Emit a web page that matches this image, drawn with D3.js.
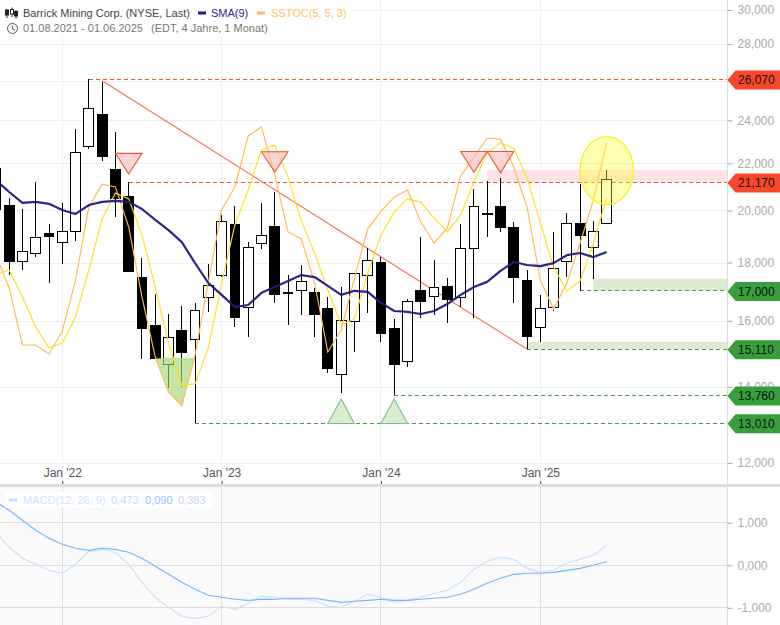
<!DOCTYPE html>
<html><head><meta charset="utf-8">
<script src="https://cdn.jsdelivr.net/npm/d3@7"></script>
<style>html,body{margin:0;padding:0;background:#fff}svg{display:block;font-family:"Liberation Sans",Arial,sans-serif}</style>
</head><body><svg id="c" width="780" height="625"></svg>
<script>
const months=["Aug 21","Sep 21","Okt 21","Nov 21","Dez 21","Jan 22","Feb 22","Mär 22","Apr 22","Mai 22","Jun 22","Jul 22","Aug 22","Sep 22","Okt 22","Nov 22","Dez 22","Jan 23","Feb 23","Mär 23","Apr 23","Mai 23","Jun 23","Jul 23","Aug 23","Sep 23","Okt 23","Nov 23","Dez 23","Jan 24","Feb 24","Mär 24","Apr 24","Mai 24","Jun 24","Jul 24","Aug 24","Sep 24","Okt 24","Nov 24","Dez 24","Jan 25","Feb 25","Mär 25","Apr 25","Mai 25","Jun 25"];
const bodyTop=[21800,20220,18390,18950,19110,19150,22510,24560,24320,21750,20590,17480,15860,15480,15700,16320,17200,19540,19460,18570,19030,19380,16960,17310,16960,16420,16000,17590,18090,18020,15770,16620,17030,17100,17170,18500,20180,19900,20180,19340,17380,16390,17770,19460,19500,19150,21310];
const bodyBottom=[20020,18020,18050,18350,18950,18760,19150,22740,22280,20470,17660,15730,14810,14660,14990,15390,16760,17550,16090,16420,18690,16860,16890,17000,16190,14510,14360,15970,17550,15580,14630,14720,16620,16790,16690,16760,18500,19820,19300,17450,15480,15770,16420,18050,19000,18540,19460];
const highs=[22000,20510,20060,21180,19460,20310,23590,26070,25940,23440,21170,18160,16890,16220,16490,16590,17950,19820,20180,18760,20310,20760,17550,17910,17100,16790,17130,17620,18540,18200,16060,16720,18950,18090,17450,19460,20880,21230,21360,19540,17730,16860,19150,19900,21100,19580,21710];
const lows=[19700,17550,17730,18200,17280,17950,18800,22650,22100,19740,17660,14810,14810,13970,14000,13010,16290,17480,15800,15480,18500,16590,15860,16190,15480,14390,13830,15020,16250,15330,13760,14570,16090,16190,15930,16450,16090,18950,19150,16590,15110,15330,16320,17480,17000,17420,19460];
const isBlack=[1,1,0,0,1,0,0,0,1,1,1,1,1,0,1,0,0,0,1,0,0,1,1,0,1,1,0,0,0,1,1,0,1,0,1,0,0,1,1,1,1,0,0,0,1,0,0];
const sma9=[21270,20760,20310,20350,20270,20020,19860,20220,20350,20390,20350,20060,19620,19220,18760,17980,17270,16860,16450,16520,16930,17130,17340,17550,17480,17170,16860,17000,16960,16590,16320,16290,16220,16320,16550,16860,17130,17310,17700,18020,17910,17870,17980,18270,18350,18200,18390];
const stochK=[53.4,42.1,22.4,22.4,19.3,27.2,44.8,70,77.9,76.9,63.1,39,18.3,6.2,1.4,19,44.1,69,76.9,94.5,97.6,81,61.4,59,43.8,20,27.6,45.5,62.4,68.6,73.4,75.9,64.8,57.6,62.8,80.7,87.2,93.8,93.4,83.8,70,44.8,34.8,43.8,57.6,72.4,92.4];
const stochD=[46.6,48.3,39,28.6,21.4,23.1,32.1,48.3,65.9,74.8,72.8,60.3,42.4,23.1,8.6,9,21.4,43.8,63.8,75.9,89.7,91.4,80.3,65.2,54.1,41.4,29.3,31.4,47.2,60.3,68.3,72.8,71.7,66.2,61.4,67.2,78.6,88.6,92.1,90.3,80,64.5,49.3,41,44.5,57.6,73.1];
const macdLine=[0.776,0.424,0.165,0.024,-0.118,-0.188,0.024,0.329,0.376,0.306,0.024,-0.4,-0.753,-0.988,-1.2,-1.247,-1.2,-0.965,-1.035,-0.894,-0.729,-0.753,-0.8,-0.8,-0.824,-0.965,-0.988,-0.847,-0.682,-0.753,-0.871,-0.824,-0.753,-0.659,-0.588,-0.4,-0.094,0.094,0.188,0.141,-0.071,-0.165,-0.118,0.047,0.141,0.235,0.473];
const macdSignal=[1.482,1.294,1.059,0.824,0.635,0.494,0.4,0.353,0.4,0.376,0.306,0.165,-0.024,-0.212,-0.4,-0.565,-0.706,-0.753,-0.8,-0.824,-0.8,-0.8,-0.776,-0.776,-0.776,-0.824,-0.871,-0.847,-0.824,-0.8,-0.824,-0.824,-0.8,-0.776,-0.753,-0.682,-0.565,-0.424,-0.306,-0.212,-0.188,-0.188,-0.165,-0.118,-0.071,0,0.09];
const priceTicks=[12000,14000,16000,18000,20000,22000,24000,26000,28000,30000];
const macdTicks=[-1,0,1];
const yearTickIdx=[5,17,29,41];
const yearTickLabels=["Jan '22","Jan '23","Jan '24","Jan '25"];
const levelValues=[26070,21170,17000,15110,13760,13010];
const levelStart=[7,10,44,40,30,15];
const levelColors=["#f9472a","#f9472a","#379e3c","#379e3c","#379e3c","#379e3c"];
const levelLine=["#f0553a","#f0553a","#3f9f45","#3f9f45","#3f9f45","#3f9f45"];
const zoneStart=[37,45,40];
const zoneHigh=[21710,17420,15330];
const zoneLow=[21170,17000,15110];
const zoneFill=["#fde3e5","#deebd2","#deebd2"];
const downTriIdx=[10,21,36,38];
const downTriBase=[22450,22520,22530,22530];
const downTriApex=[21530,21620,21610,21580];
const upTriIdx=[26,30];
const upTriBase=[13000,13000];
const upTriApex=[13660,13660];
const trendIdx=[8,40];
const trendVal=[26000,15110];
const stochFloor=18;
const circleIdx=46, circlePrice=21680;

const W=780,axisX=727.5;
const svg=d3.select("#c");
const defs=svg.append("defs");
defs.append("clipPath").attr("id","mainClip").append("rect").attr("x",0).attr("y",0).attr("width",axisX).attr("height",484);
defs.append("clipPath").attr("id","macdClip").append("rect").attr("x",0).attr("y",487).attr("width",axisX).attr("height",138);

const x=d3.scaleLinear().domain([0,46]).range([-4.1,606.7]);
const y=d3.scaleLog().domain([12000,30000]).range([463,10]);
const ys=d3.scaleLinear().domain([0,100]).range([410,120]);
const ym=d3.scaleLinear().domain([-1,1]).range([607.8,522.8]);
const loc=d3.formatLocale({decimal:",",thousands:",",grouping:[3],minus:"-",currency:["","€"]});
const fp=d3.format(",.0f"), fm=loc.format(".3f");
const idx=d3.range(months.length);
const half=x(1)-x(0);

// panel background
svg.append("rect").attr("x",0).attr("y",487).attr("width",axisX).attr("height",138).attr("fill","#fafafa");

// grid
const g=svg.append("g").attr("shape-rendering","crispEdges");
g.selectAll(".hg").data(priceTicks).join("line").attr("x1",0).attr("x2",axisX).attr("y1",d=>y(d)+.5).attr("y2",d=>y(d)+.5).attr("stroke","#eeeeee").attr("stroke-width",1);
g.selectAll(".vg").data(yearTickIdx).join("line").attr("x1",d=>x(d)).attr("x2",d=>x(d)).attr("y1",0).attr("y2",484).attr("stroke","#f0f0f0").attr("stroke-width",1);
g.selectAll(".hm").data(macdTicks).join("line").attr("x1",0).attr("x2",axisX).attr("y1",d=>ym(d)).attr("y2",d=>ym(d)).attr("stroke","#dedede");
g.selectAll(".vm").data(yearTickIdx).join("line").attr("x1",d=>x(d)).attr("x2",d=>x(d)).attr("y1",487).attr("y2",625).attr("stroke","#dedede");

// legend background hides grid
svg.append("rect").attr("x",0).attr("y",0).attr("width",352).attr("height",37).attr("fill","#fff");

const main=svg.append("g").attr("clip-path","url(#mainClip)");
// zones
main.selectAll(".zone").data(zoneStart).join("rect")
 .attr("x",d=>x(d)).attr("width",d=>axisX-x(d))
 .attr("y",(d,i)=>y(zoneHigh[i])).attr("height",(d,i)=>y(zoneLow[i])-y(zoneHigh[i]))
 .attr("fill",(d,i)=>zoneFill[i]);
// level lines
main.selectAll(".lvl").data(levelValues).join("line")
 .attr("shape-rendering","crispEdges")
 .attr("x1",(d,i)=>x(levelStart[i])).attr("x2",axisX).attr("y1",d=>y(d)).attr("y2",d=>y(d))
 .attr("stroke",(d,i)=>levelLine[i]).attr("stroke-width",1).attr("stroke-dasharray","4,3");
// trend
main.append("line").attr("x1",x(trendIdx[0])).attr("y1",y(trendVal[0])).attr("x2",x(trendIdx[1])).attr("y2",y(trendVal[1])).attr("stroke","#fa6a50").attr("stroke-width",1.1);

// candles
const cg=main.selectAll(".c").data(idx).join("g").attr("shape-rendering","crispEdges");
cg.append("line").attr("x1",i=>x(i)).attr("x2",i=>x(i)).attr("y1",i=>y(highs[i])).attr("y2",i=>y(lows[i])).attr("stroke","#000").attr("stroke-width",1);
cg.append("rect").attr("x",i=>x(i)-(isBlack[i]?5.4:4.9)).attr("width",i=>isBlack[i]?10.8:9.8)
 .attr("y",i=>y(bodyTop[i])).attr("height",i=>Math.max(1,y(bodyBottom[i])-y(bodyTop[i])))
 .attr("fill",i=>isBlack[i]?"#000":"#fff").attr("stroke",i=>isBlack[i]?"none":"#000").attr("stroke-width",1);

// stoch fill
const fillIdx=[12,13,14,15];
main.append("path").attr("d",d3.area().x(i=>x(i)).y0(ys(stochFloor)).y1(i=>ys(Math.min(stochK[i],stochFloor)))(fillIdx))
 .attr("fill","#a5d873").attr("fill-opacity",.65);
// stoch lines
const ls=a=>d3.line().x(i=>x(i)).y(i=>ys(a[i]))(idx);
main.append("path").attr("d",ls(stochK)).attr("fill","none").attr("stroke","#ffb950").attr("stroke-width",1.15);
main.append("path").attr("d",ls(stochD)).attr("fill","none").attr("stroke","#ffe01a").attr("stroke-width",1.15);
// SMA
main.append("path").attr("d",d3.line().x(i=>x(i)).y(i=>y(sma9[i]))(idx)).attr("fill","none").attr("stroke","#23187f").attr("stroke-width",2.2).attr("stroke-linejoin","round").attr("stroke-opacity",.95);

// triangles
main.selectAll(".dt").data(downTriIdx).join("path")
 .attr("d",(d,i)=>d3.line()([[x(d)-half,y(downTriBase[i])],[x(d)+half,y(downTriBase[i])],[x(d),y(downTriApex[i])]])+"Z")
 .attr("fill","#f9b8b8").attr("fill-opacity",.6).attr("stroke","#e8592e").attr("stroke-width",1.1);
main.selectAll(".ut").data(upTriIdx).join("path")
 .attr("d",(d,i)=>d3.line()([[x(d)-half,y(upTriBase[i])],[x(d)+half,y(upTriBase[i])],[x(d),y(upTriApex[i])]])+"Z")
 .attr("fill","#c4deb8").attr("fill-opacity",.6).attr("stroke","#7cc47c").attr("stroke-width",1.1);
// highlight ellipse
main.append("ellipse").attr("cx",x(circleIdx)).attr("cy",y(circlePrice)).attr("rx",26.7).attr("ry",34)
 .attr("fill","#ffff33").attr("fill-opacity",.38).attr("stroke","#ffee11").attr("stroke-width",1.2);

// MACD
const mg=svg.append("g").attr("clip-path","url(#macdClip)");
const lm=a=>d3.line().x(i=>x(i)).y(i=>ym(a[i]))(idx);
mg.append("path").attr("d",lm(macdLine)).attr("fill","none").attr("stroke","#c5e0ff").attr("stroke-width",1.15);
mg.append("path").attr("d",lm(macdSignal)).attr("fill","none").attr("stroke","#6fb6ff").attr("stroke-width",1.15);

// separator
svg.append("rect").attr("x",0).attr("y",484).attr("width",W).attr("height",3).attr("fill","#dddddd");

// axes
function style(a,col){a.select(".domain").remove();a.selectAll(".tick line").attr("stroke","#aaa");a.selectAll(".tick text").attr("fill",col).style("font-size","12px").style("font-family",'"Liberation Sans",Arial,sans-serif');}
svg.append("line").attr("x1",axisX).attr("x2",axisX).attr("y1",0).attr("y2",625).attr("stroke","#dddddd");
const ap=svg.append("g").attr("transform",`translate(${axisX},0)`).call(d3.axisRight(y).tickValues(priceTicks).tickFormat(fp).tickSize(5).tickPadding(5));
style(ap,"#aaaaaa");
const am=svg.append("g").attr("transform",`translate(${axisX},0)`).call(d3.axisRight(ym).tickValues(macdTicks).tickFormat(fm).tickSize(5).tickPadding(5));
style(am,"#aaaaaa");
const ax=svg.append("g").attr("transform","translate(0,484)").call(d3.axisTop(x).tickValues(yearTickIdx).tickFormat((d,i)=>yearTickLabels[i]).tickSize(3).tickPadding(4));
style(ax,"#555555"); ax.selectAll(".tick line").attr("stroke","#444");

// level tags
const tags=svg.selectAll(".tag").data(levelValues).join("g").attr("transform",d=>`translate(${axisX},${y(d)+.6})`);
tags.append("path").attr("d","M0,0L8,-9.5H53V9.5H8Z").attr("fill",(d,i)=>levelColors[i]);
tags.append("text").attr("x",10.5).attr("y",4.4).attr("fill","#111").style("font-size","12px").text(d=>fp(d));

// legend
const t=(xx,yy,s,c,size=11)=>svg.append("text").attr("x",xx).attr("y",yy).attr("fill",c).style("font-size",size+"px").text(s);
t(23,17,"Barrick Mining Corp. (NYSE, Last)","#444");
svg.append("rect").attr("x",198).attr("y",11.5).attr("width",8).attr("height",3).attr("fill","#23187f");
t(211,17,"SMA(9)","#2b2a8f");
svg.append("rect").attr("x",257).attr("y",11.5).attr("width",8).attr("height",3).attr("fill","#ffb950");
t(271,17,"SSTOC(5, 5, 3)","#ffc266");
t(23,32,"01.08.2021 - 01.06.2025","#777");
t(151,32,"(EDT, 4 Jahre, 1 Monat)","#777");
// icons
const ic=svg.append("g").attr("stroke","#222").attr("fill","none").attr("stroke-width",1);
[[7,9,18,10,15,1],[12,7.5,17,9.5,14,0],[16,10,18.5,11.5,16,1]].forEach(a=>{
 ic.append("line").attr("x1",a[0]).attr("x2",a[0]).attr("y1",a[1]).attr("y2",a[2]);
 ic.append("rect").attr("x",a[0]-1.5).attr("y",a[3]).attr("width",3).attr("height",a[4]-a[3]).attr("fill",a[5]?"#222":"#fff");
});
const ck=svg.append("g").attr("stroke","#555").attr("fill","none").attr("stroke-width",1);
ck.append("circle").attr("cx",12.5).attr("cy",28.5).attr("r",5);
ck.append("path").attr("d","M12.5,25.5V28.8L15,30.3");

// MACD legend
svg.append("rect").attr("x",5).attr("y",492).attr("width",207).attr("height",16).attr("fill","#fff");
svg.append("rect").attr("x",9).attr("y",498.5).attr("width",8).attr("height",3).attr("fill","#c5e0ff");
t(23,504,"MACD(12, 26, 9)","#cfe5ff");
t(111,504,fm(macdLine[46]),"#c5e0ff");
t(145,504,fm(macdSignal[46]),"#8fc4ff");
t(178,504,"0,383","#c9d6e8");
</script></body></html>
